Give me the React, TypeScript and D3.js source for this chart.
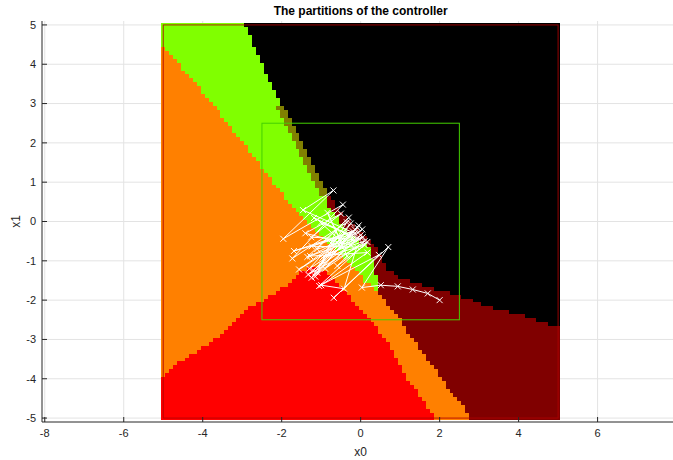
import React, { useMemo } from "react";
import * as d3 from "d3";

// ---- axis ticks ----
const xTicks = [-8, -6, -4, -2, 0, 2, 4, 6];
const yTicks = [-5, -4, -3, -2, -1, 0, 1, 2, 3, 4, 5];

// ---- partition boundaries ----
// black region: x > blackEdge(y)
const blackEdgeY = [5.1, 4.0, 3.0, 2.84, 2.0, 1.58, 1.15, 0.81, 0.5, 0.1, -0.2, -0.46, -0.71, -1.14, -1.4, -1.65, -1.86, -1.98, -2.19, -2.37, -2.54, -2.67, -2.8];
const blackEdgeX = [-2.95, -2.5, -2.05, -1.87, -1.49, -1.28, -1.07, -0.88, -0.7, -0.4, -0.05, 0.22, 0.42, 0.62, 0.95, 1.7, 2.44, 2.85, 3.28, 4.04, 4.62, 4.97, 5.4];
// olive band just left of the black edge
const oliveRange = [0.65, 2.9];
const oliveWidth = 0.2;
// green / orange boundary (x as function of y)
const greenLeftY = [5.2, 4.54, 3.86, 2.84, 1.75, 0.74, 0.38, -0.38, -0.71, -1.05, -1.48, -1.75];
const greenLeftX = [-5.3, -5.05, -4.48, -3.62, -2.78, -2.03, -1.7, -1.0, -0.6, -0.27, 0.07, 0.38];
// green / dark-red boundary (x as function of y)
const greenRightY = [0.65, 0.38, -0.2, -0.71, -1.05, -1.48, -1.75];
const greenRightX = [-0.9, -0.8, -0.35, 0.24, 0.32, 0.42, 0.42];
// orange band / dark-red boundary (x as function of y)
const orangeRightY = [-1.75, -1.8, -2.49, -2.79, -3.5, -4.09, -4.59, -4.85, -5.1];
const orangeRightX = [0.42, 0.45, 1.01, 1.19, 1.7, 2.1, 2.53, 2.73, 2.8];
// red region: y < redTop(x)
const redTopX = [-5.1, -5.05, -4.48, -3.62, -2.78, -2.46, -1.95, -1.44, -1.2, -0.95, -0.68, -0.25, 0.25, 0.65, 1.2, 1.9, 2.0];
const redTopY = [-3.96, -3.96, -3.5, -2.92, -2.18, -1.98, -1.65, -1.22, -1.16, -1.25, -1.47, -1.95, -2.5, -3.0, -4.0, -5.0, -5.2];

// ---- closed-loop trajectory ----
const trajX = [2.0, 1.7, 1.32, 0.94, 0.51, 0.03, 0.7, -0.68, 0.46, -1.05, 0.17, -1.33, 0.04, -1.56, -0.08, -1.24, -0.35, -1.73, -0.45, -1.96, -0.69, -1.46, -0.15, -1.28, 0.17, -1.0, -0.42, -0.1, -1.24, -0.2, -1.69, -0.3, -1.18, -0.05, -0.97, 0.1, -0.59, -0.34, -0.84, -0.5, -1.01, -0.6, -1.1, -0.05, -1.2, -0.15, -1.15, 0.0, -1.3, -0.25, -1.0, 0.05, -1.35, -0.3, -1.1, -0.2, -1.25, -0.5, -1.4, -0.25, -0.9, 0.1, -0.8, -0.4, -0.75];
const trajY = [-2.0, -1.83, -1.73, -1.65, -1.62, -1.68, -0.65, -1.94, -0.85, -1.64, -0.52, -1.35, -0.2, -1.22, -0.16, -1.43, -0.02, -0.94, 0.43, -0.44, 0.79, 0.29, -0.3, -0.88, -0.79, -1.62, -1.71, -0.65, -0.63, -0.25, -0.75, -0.35, 0.09, -0.45, -0.92, -0.6, -1.13, -0.88, 0.22, -0.5, -0.03, -0.2, -1.3, -0.1, -1.25, -0.2, -1.4, -0.35, -1.2, -0.05, -1.1, -0.4, -0.9, 0.1, -0.7, -0.45, -0.4, 0.2, -0.3, -0.6, -1.2, -0.5, -0.8, -0.3, -0.55];

const COLORS = {
  red: "#ff0000",
  black: "#000000",
  olive: "#808000",
  orange: "#ff8000",
  green: "#80ff00",
  darkred: "#800000",
};

const W = 673;
const H = 460;

function poly(dom: number[], rng: number[]) {
  return d3.scaleLinear().domain(dom).range(rng).clamp(true);
}

export default function App() {
  const xs = d3.scaleLinear().domain([-8.07, 7.91]).range([42, 673]);
  const ys = d3.scaleLinear().domain([-5.1, 5.1]).range([422, 21]);

  const cells = useMemo(() => {
    const bk = poly(blackEdgeY, blackEdgeX);
    const gl = poly(greenLeftY, greenLeftX);
    const gr = poly(greenRightY, greenRightX);
    const orr = poly(orangeRightY, orangeRightX);
    const rt = poly(redTopX, redTopY);
    const classify = (x: number, y: number): string => {
      if (y < rt(x)) return COLORS.red;
      const b = bk(y);
      if (x > b) return COLORS.black;
      if (y >= oliveRange[0] && y <= oliveRange[1] && x > b - oliveWidth) return COLORS.olive;
      if (y >= -1.75) {
        if (x < gl(y)) return COLORS.orange;
        if (y > 0.65 || x < gr(y)) return COLORS.green;
        return COLORS.darkred;
      }
      if (x < orr(y)) return COLORS.orange;
      return COLORS.darkred;
    };
    const out: { x: number; y: number; c: string }[] = [];
    for (let i = 0; i <= 100; i++) {
      for (let j = 0; j <= 100; j++) {
        const cx = Math.round((-5 + i * 0.1) * 10) / 10;
        const cy = Math.round((-5 + j * 0.1) * 10) / 10;
        out.push({ x: cx, y: cy, c: classify(cx, cy) });
      }
    }
    return out;
  }, []);

  const pts = trajX.map((x, i) => [xs(x), ys(trajY[i])] as [number, number]);
  const line = d3.line()(pts) || "";

  const plotL = 42, plotR = 673, plotT = 21, plotB = 422;
  const gridColor = "#e3e3e3";
  const font = "Liberation Sans, Arial, sans-serif";

  return (
    <svg width={W} height={H} style={{ position: "absolute", left: 0, top: 0, background: "#fff" }}>
      <rect x={0} y={0} width={W} height={H} fill="#fff" />
      {/* grid */}
      {xTicks.map((t) => (
        <line key={"gx" + t} x1={xs(t)} x2={xs(t)} y1={plotT} y2={plotB} stroke={gridColor} strokeWidth={1} />
      ))}
      {yTicks.map((t) => (
        <line key={"gy" + t} x1={plotL} x2={plotR} y1={ys(t)} y2={ys(t)} stroke={gridColor} strokeWidth={1} />
      ))}
      {/* partition cells */}
      <g shapeRendering="crispEdges">
        {cells.map((d, k) => {
          const x0 = xs(d.x - 0.05);
          const x1 = xs(d.x + 0.05);
          const y0 = ys(d.y + 0.05);
          const y1 = ys(d.y - 0.05);
          return <rect key={k} x={x0} y={y0} width={x1 - x0 + 0.4} height={y1 - y0 + 0.4} fill={d.c} />;
        })}
      </g>
      {/* outer domain box */}
      <rect x={xs(-5)} y={ys(5)} width={xs(5) - xs(-5)} height={ys(-5) - ys(5)} fill="none" stroke="#b00000" strokeOpacity={0.85} strokeWidth={1} />
      {/* inner box */}
      <rect x={xs(-2.5)} y={ys(2.5)} width={xs(2.5) - xs(-2.5)} height={ys(-2.5) - ys(2.5)} fill="none" stroke="#44d000" strokeWidth={1} />
      {/* trajectory */}
      <path d={line} fill="none" stroke="#fff" strokeWidth={1} />
      {pts.map(([px, py], i) => (
        <g key={"m" + i} stroke="#fff" strokeWidth={1}>
          <line x1={px - 3} y1={py - 3} x2={px + 3} y2={py + 3} />
          <line x1={px - 3} y1={py + 3} x2={px + 3} y2={py - 3} />
        </g>
      ))}
      {/* axes */}
      <line x1={plotL} x2={plotL} y1={plotT} y2={plotB} stroke="#262626" strokeWidth={1} />
      <line x1={plotL} x2={plotR} y1={plotB} y2={plotB} stroke="#262626" strokeWidth={1} />
      {yTicks.map((t) => (
        <g key={"yt" + t}>
          <line x1={plotL} x2={plotL + 5} y1={ys(t)} y2={ys(t)} stroke="#262626" />
          <text x={plotL - 6} y={ys(t)} dy="0.35em" textAnchor="end" fontSize={11} fontFamily={font} fill="#262626">
            {t}
          </text>
        </g>
      ))}
      {xTicks.map((t) => (
        <g key={"xt" + t}>
          <line x1={xs(t)} x2={xs(t)} y1={plotB} y2={plotB - 5} stroke="#262626" />
          <text x={xs(t)} y={plotB + 15} textAnchor="middle" fontSize={11} fontFamily={font} fill="#262626">
            {t}
          </text>
        </g>
      ))}
      <text x={xs(0)} y={456} textAnchor="middle" fontSize={12} fontFamily={font} fill="#262626">
        x0
      </text>
      <text transform={`translate(20, ${ys(0)}) rotate(-90)`} textAnchor="middle" fontSize={12} fontFamily={font} fill="#262626">
        x1
      </text>
      <text x={xs(0)} y={15} textAnchor="middle" fontSize={12} fontWeight="bold" fontFamily={font} fill="#000">
        The partitions of the controller
      </text>
    </svg>
  );
}
